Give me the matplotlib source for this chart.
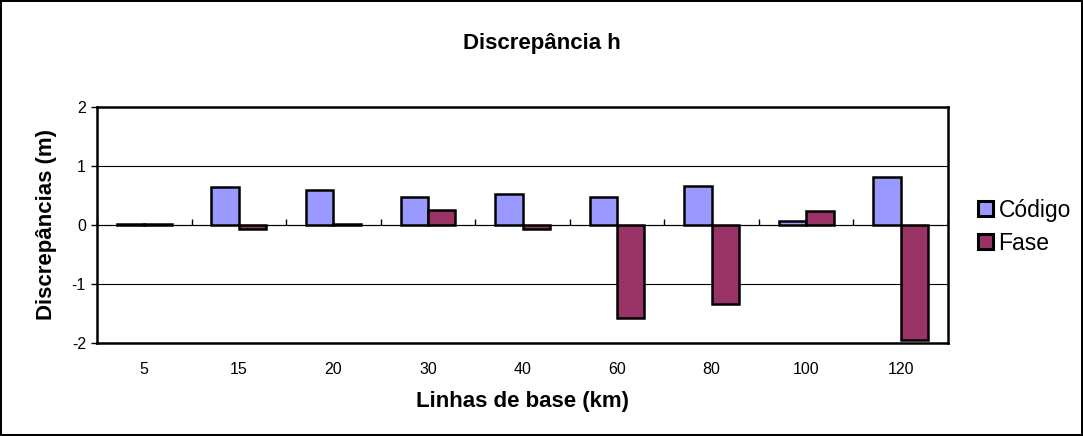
import matplotlib
matplotlib.use("Agg")
import matplotlib.pyplot as plt
import numpy as np

plt.rcParams['font.family'] = ['Liberation Sans', 'DejaVu Sans']

categories = ["5", "15", "20", "30", "40", "60", "80", "100", "120"]
codigo = [0.01, 0.64, 0.59, 0.47, 0.52, 0.48, 0.66, 0.07, 0.82]
fase = [0.01, -0.07, 0.02, 0.25, -0.06, -1.58, -1.34, 0.23, -1.95]
series_names = ["Código", "Fase"]
colors = ["#9999FF", "#993366"]

fig = plt.figure(figsize=(10.83, 4.36), dpi=100)
fig.patch.set_edgecolor("black")
fig.patch.set_linewidth(1.5)
ax = fig.add_axes([97/1083, 1-343/436, (948-97)/1083, (343-107)/436])

x = np.arange(len(categories))
w = 0.29
ax.bar(x - w/2, codigo, w, color=colors[0], edgecolor="black", linewidth=1.8,
       label=series_names[0], zorder=3)
ax.bar(x + w/2, fase, w, color=colors[1], edgecolor="black", linewidth=1.8,
       label=series_names[1], zorder=3)

ax.set_xlim(-0.5, len(categories) - 0.5)
ax.set_ylim(-2, 2)
ax.set_yticks([-2, -1, 0, 1, 2])
ax.set_yticklabels(["-2", "-1", "0", "1", "2"])
ax.yaxis.grid(True, color="black", linewidth=0.8, zorder=0)
ax.tick_params(axis="y", direction="out", length=4, width=1, labelsize=11.5, pad=4)

ax.set_xticks(x)
ax.set_xticklabels(categories)
ax.tick_params(axis="x", length=0, labelsize=11.5, pad=14)

for s in ax.spines.values():
    s.set_linewidth(1.8)
    s.set_color("black")

# category axis at zero with boundary ticks
sec = ax.secondary_xaxis(0.5)
sec.set_xticks(np.arange(len(categories) + 1) - 0.5)
sec.set_xticklabels([])
sec.tick_params(direction="out", length=4, width=1)
sec.spines["bottom"].set_linewidth(1.2)

ax.set_ylabel("Discrepâncias (m)", fontsize=16, fontweight="bold")
ax.yaxis.set_label_coords(-0.047, 0.5)
ax.set_xlabel("Linhas de base (km)", fontsize=16, fontweight="bold")
ax.xaxis.set_label_coords(0.5, -0.203)

fig.text(0.5 + 0.0, 1 - 43/436, "Discrepância h", ha="center", va="center",
         fontsize=16, fontweight="bold")

leg = fig.legend(loc="center left", bbox_to_anchor=(0.884, 0.48), frameon=False,
                 fontsize=16.5, handlelength=0.65, handleheight=0.65,
                 handletextpad=0.25, labelspacing=0.45)
for h in leg.legend_handles:
    h.set_linewidth(2.2)

fig.savefig("out.png", dpi=100)
